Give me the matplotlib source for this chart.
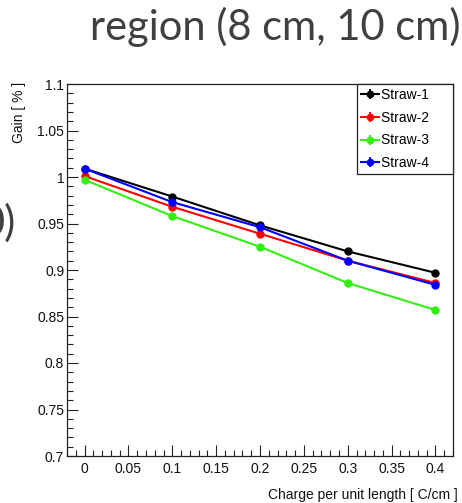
import matplotlib
matplotlib.use("Agg")
import matplotlib.pyplot as plt
from matplotlib.lines import Line2D
from matplotlib.legend_handler import HandlerTuple
from matplotlib.ticker import MultipleLocator

# gain vs. charge per unit length, one series per straw
charge = [0.0, 0.1, 0.2, 0.3, 0.4]
straw1 = [1.009, 0.979, 0.948, 0.920, 0.897]
straw2 = [1.001, 0.968, 0.939, 0.910, 0.886]
straw3 = [0.997, 0.958, 0.925, 0.886, 0.857]
straw4 = [1.009, 0.973, 0.946, 0.910, 0.884]
labels = ["Straw-1", "Straw-2", "Straw-3", "Straw-4"]
colors = ["black", "#ff0000", "#33ee11", "#0000ff"]

W, H = 462, 503
fig = plt.figure(figsize=(W / 100, H / 100), dpi=100)
ax = fig.add_axes([67 / W, 1 - 456 / H, (453 - 67) / W, (456 - 84) / H])

root_font = "Liberation Sans"

handles = []
for ys, c, lab in zip([straw1, straw2, straw3, straw4], colors, labels):
    ax.plot(charge, ys, color=c, lw=1.5, marker="o", ms=5, mec=c, mfc=c)
    # legend entry: line + marker + vertical error-bar tick
    h1 = Line2D([], [], color=c, lw=1.5, marker="o", ms=4.5)
    h2 = Line2D([], [], color=c, lw=0, marker="|", ms=7, mew=1.3)
    handles.append((h1, h2))

ax.set_xlim(-0.02, 0.42)
ax.set_ylim(0.7, 1.1)
ax.xaxis.set_major_locator(MultipleLocator(0.05))
ax.xaxis.set_minor_locator(MultipleLocator(0.01))
ax.yaxis.set_major_locator(MultipleLocator(0.05))
ax.yaxis.set_minor_locator(MultipleLocator(0.01))
ax.xaxis.set_major_formatter(lambda v, p: f"{v:g}" if abs(v) > 1e-9 else "0")
ax.yaxis.set_major_formatter(lambda v, p: f"{v:g}")
ax.tick_params(which="both", direction="in", color="#222222", width=0.8,
               labelsize=10, labelcolor="#111111")
ax.tick_params(which="major", length=8)
ax.tick_params(which="minor", length=4)
ax.tick_params(axis="y", pad=2)
ax.tick_params(axis="x", pad=4)
for lab in ax.get_xticklabels() + ax.get_yticklabels():
    lab.set_fontfamily(root_font)
for sp in ax.spines.values():
    sp.set_color("#222222")
    sp.set_linewidth(0.9)

# trailing spaces leave the wide right margin of a ROOT legend box
leg = ax.legend(handles, [s + "     " for s in labels],
                handler_map={tuple: HandlerTuple(ndivide=1)},
                loc="upper right", bbox_to_anchor=(1.0, 1.0), borderaxespad=0,
                fancybox=False, framealpha=1, edgecolor="#222222",
                prop={"family": root_font, "size": 10},
                handlelength=1.25, handletextpad=0.2, borderpad=0.3,
                labelspacing=0.62)
leg.get_frame().set_linewidth(0.9)

fig.text(19 / W, 1 - 82 / H, "Gain [ % ]", rotation=90, ha="center", va="top",
         fontsize=10, family=root_font, color="#111111")
fig.text(458 / W, 1 - 495 / H, "Charge per unit length [ C/cm ]", ha="right",
         va="center", fontsize=10, family=root_font, color="#111111")

# slide heading and a clipped fragment of neighbouring text
fig.text(460 / W, 1 - 27 / H, "region (8 cm, 10 cm)", ha="right", va="center",
         fontsize=30, family="Lato", color="#404040")
fig.text(16 / W, 1 - 223 / H, "0)", ha="right", va="center",
         fontsize=30, family="Lato", color="#404040")

fig.savefig("out.png", dpi=100)
